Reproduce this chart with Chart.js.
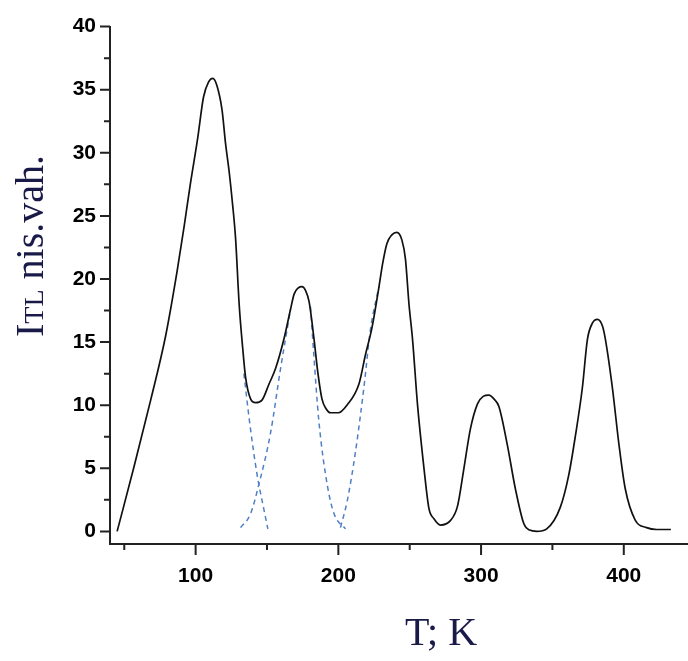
<!DOCTYPE html>
<html>
<head>
<meta charset="utf-8">
<script src="https://cdn.jsdelivr.net/npm/chart.js@4"></script>
<style>
  body { margin: 0; background: #fff; }
  canvas { display: block; }
</style>
</head>
<body>
<canvas id="canvas" width="688" height="661"></canvas>
<script>
// measured TL glow curve
const tempK = [45, 57, 68.5, 79, 87, 92, 96, 101.5, 105.5, 109, 112, 115, 118.5, 121, 123.5, 126, 128,
  130.5, 133, 135, 138.5, 142, 146.5, 151.5, 156, 162, 166.5, 169, 172, 174.5, 177, 179.5, 183,
  185.5, 188.5, 191.5, 194.5, 200, 206, 214.5, 219, 223.5, 228.5, 231, 234, 237.5, 241, 244.5,
  247, 249.5, 252, 255.5, 260, 263.5, 267, 271.5, 278.5, 283.5, 288, 292.5, 297.5, 301.5, 305.5,
  309, 312.5, 318.5, 324, 330, 334, 339, 346, 355.5, 361.5, 366, 371, 374.5, 378, 381.5, 385,
  387, 392, 396.5, 401, 408, 416, 423, 433];
const intensity = [0, 5.2, 10.4, 15.5, 20.6, 24.2, 27.3, 31.2, 34.4, 35.6, 35.9, 35.3, 33.4, 30.7, 28.5, 25.8, 23.2,
  18, 14.5, 12.2, 10.5, 10.2, 10.4, 11.7, 12.9, 15.3, 17.6, 18.8, 19.3, 19.4, 19.1, 18.2, 15.2,
  12.7, 10.5, 9.7, 9.4, 9.4, 10, 11.7, 14, 16.1, 19.4, 21.2, 22.8, 23.5, 23.7, 23.1,
  21.6, 18, 15.2, 10, 5, 1.8, 1, 0.5, 0.85, 2, 5, 8.1, 10.1, 10.7, 10.8,
  10.5, 9.9, 6.8, 3.4, 0.6, 0.1, 0, 0.2, 1.9, 4.5, 7.5, 11.4, 15.2, 16.5, 16.8, 16.3,
  15.3, 11.4, 7, 3.4, 0.9, 0.3, 0.15, 0.15];

// dashed deconvolved peak flanks
const tailA_T = [133.8, 138, 143.2, 147, 150.6];
const tailA_I = [12.5, 8.5, 4.4, 2.2, 0.2];
const tailB_T = [131.5, 138.5, 144.5, 152.5, 159.5, 166.5];
const tailB_I = [0.3, 1.4, 3.8, 7.8, 12.9, 17.6];
const tailC_T = [180.5, 182.8, 186.3, 192.2, 197, 205];
const tailC_I = [17.8, 14, 8.8, 3.7, 1.4, 0.2];
const tailD_T = [201.5, 206.2, 212, 217.9, 222.5, 228.4];
const tailD_I = [0.3, 2.4, 6.3, 11.4, 16, 19.4];

const xTicks = [100, 200, 300, 400];
const xMinor = [50, 150, 250, 350];
const yTicks = [0, 5, 10, 15, 20, 25, 30, 35, 40];
const yMinor = [2.5, 7.5, 12.5, 17.5, 22.5, 27.5, 32.5, 37.5];

function pts(xs, ys) {
  return xs.map((x, i) => ({ x: x, y: ys[i] }));
}

function dashed(xs, ys) {
  return {
    data: pts(xs, ys),
    borderColor: "#4f7fc4",
    borderWidth: 1.5,
    borderDash: [5, 4],
    pointRadius: 0,
    cubicInterpolationMode: "monotone",
  };
}

const tickMarks = {
  id: "tickMarks",
  afterDraw(chart) {
    const c = chart.ctx;
    const xs = chart.scales.x;
    const ys = chart.scales.y;
    const ax = chart.chartArea.left;
    const ay = chart.chartArea.bottom;
    c.save();
    c.strokeStyle = "#222";
    c.lineWidth = 2;
    c.beginPath();
    yTicks.forEach((v) => { const p = ys.getPixelForValue(v); c.moveTo(ax - 10, p); c.lineTo(ax, p); });
    yMinor.forEach((v) => { const p = ys.getPixelForValue(v); c.moveTo(ax - 6, p); c.lineTo(ax, p); });
    xTicks.forEach((v) => { const p = xs.getPixelForValue(v); c.moveTo(p, ay); c.lineTo(p, ay + 11); });
    xMinor.forEach((v) => { const p = xs.getPixelForValue(v); c.moveTo(p, ay); c.lineTo(p, ay + 6); });
    c.stroke();

    // axis titles
    c.fillStyle = "#1a1a48";
    c.textBaseline = "alphabetic";
    c.font = "40px 'Liberation Serif'";
    c.textAlign = "center";
    c.fillText("T; K", 441, 645);

    c.translate(43, 337);
    c.rotate(-Math.PI / 2);
    c.textAlign = "left";
    let x = 0;
    c.font = "40px 'Liberation Serif'";
    c.fillText("I", x, 0);
    x += c.measureText("I").width;
    c.font = "28px 'Liberation Serif'";
    c.fillText("TL", x, 0);
    x += c.measureText("TL").width;
    c.font = "40px 'Liberation Serif'";
    c.fillText(" nis.vah.", x, 0);
    c.restore();
  },
};

const ctx = document.getElementById("canvas");

const chart = new Chart(ctx, {
  type: "line",
  data: {
    datasets: [
      {
        data: pts(tempK, intensity),
        borderColor: "#111",
        borderWidth: 1.7,
        pointRadius: 0,
        cubicInterpolationMode: "monotone",
      },
      dashed(tailA_T, tailA_I),
      dashed(tailB_T, tailB_I),
      dashed(tailC_T, tailC_I),
      dashed(tailD_T, tailD_I),
    ],
  },
  options: {
    responsive: false,
    animation: false,
    layout: { padding: { top: 13, right: 0, left: 0, bottom: 0 } },
    plugins: {
      legend: { display: false },
      tooltip: { enabled: false },
    },
    scales: {
      x: {
        type: "linear",
        min: 40,
        max: 445,
        afterBuildTicks: (s) => { s.ticks = xTicks.map((v) => ({ value: v })); },
        afterFit: (s) => { s.height = 117; },
        grid: { display: false, drawTicks: false },
        border: { display: true, color: "#222", width: 2 },
        ticks: {
          padding: 20,
          color: "#000",
          maxRotation: 0,
          font: { family: "'Liberation Sans'", size: 21, weight: "bold" },
        },
      },
      y: {
        type: "linear",
        min: -1,
        max: 40,
        afterBuildTicks: (s) => { s.ticks = yTicks.map((v) => ({ value: v })); },
        afterFit: (s) => { s.width = 110; },
        grid: { display: false, drawTicks: false },
        border: { display: true, color: "#222", width: 2 },
        ticks: {
          padding: 14,
          color: "#000",
          font: { family: "'Liberation Sans'", size: 21, weight: "bold" },
        },
      },
    },
  },
  plugins: [tickMarks],
});
</script>
</body>
</html>
